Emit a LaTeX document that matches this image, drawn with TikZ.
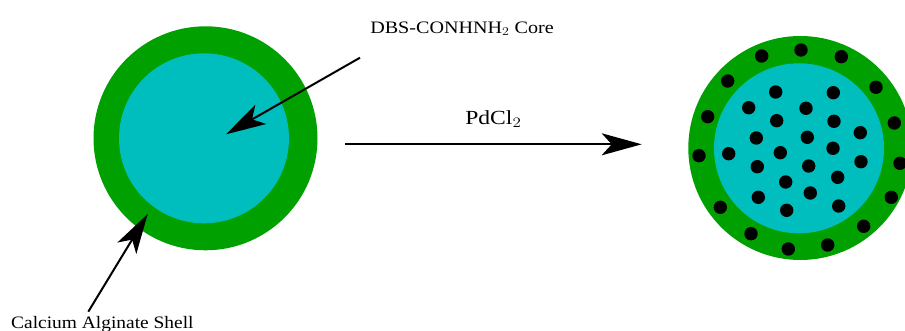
\documentclass[tikz,border=0pt]{standalone}
\usepackage{fontspec}
\setmainfont{Liberation Serif}
\usetikzlibrary{arrows.meta}
\definecolor{shellgreen}{RGB}{0,160,0}
\definecolor{corecyan}{RGB}{0,190,190}
\newcommand{\widetext}[2]{\scalebox{#1}[1]{#2}}
\tikzset{
  shell/.style={fill=shellgreen, draw=none},
  core/.style={fill=corecyan, draw=none},
  pd/.style={fill=black, draw=none},
  pointer/.style={line width=2pt, -{Stealth[length=40pt, width=22pt, inset=10pt]}},
  label/.style={inner sep=0pt, font=\fontsize{17.5}{20}\selectfont},
}
\begin{document}
\begin{tikzpicture}[x=1pt, y=-1pt]
  \useasboundingbox (0,0) rectangle (905,331);
  % capsule before reaction
  \fill[shell] (205.5,138.3) circle (112);
  \fill[core] (204,138.3) circle (85);
  \coordinate (coretip) at (226,134.3);
  \coordinate (shelltip) at (147.7,214);
  % capsule after reaction
  \fill[shell] (800.3,148) circle (112);
  \fill[core] (799,148.3) circle (85);
  \foreach \x/\y in {801/50, 761.7/56, 841.3/56.7, 727.7/81, 876/87.3, 707.7/116.7,
      894.3/123, 699/155.7, 900/163.3, 720.3/207.3, 891.3/197.3, 751/233.7,
      863.7/226.3, 788.3/249, 827.7/245,
      775.7/92, 833.3/92.7, 748.7/107.7, 806/108.3, 776.7/120.7, 834/121.3,
      756.3/138, 807.3/137.3, 860.3/132.7, 728.7/153.7, 780.3/152.7, 833/148.3,
      757.3/166.7, 808.7/166, 861/161.7, 785.7/182, 837.7/177.3, 758.3/197.3,
      810.3/193, 786.7/210.3, 838.7/206}
    \fill[pd] (\x,\y) circle (6.7);
  % labels
  \node[label, anchor=base] (corelbl) at (462,33.3) {\widetext{1.15}{DBS-CONHNH$_2$ Core}};
  \node[label, anchor=base west] (shelllbl) at (11,328.3) {\widetext{1.11}{Calcium Alginate Shell}};
  \coordinate (corefrom) at (360,57.7);
  \coordinate (shellfrom) at (88.3,311.7);
  \draw[pointer] (corefrom) -- (coretip);
  \draw[pointer] (shellfrom) -- (shelltip);
  % reaction arrow
  \coordinate (rxnfrom) at (345,144.3);
  \coordinate (rxnto) at (641.7,144.3);
  \draw[pointer] (rxnfrom) -- node[label, above=16pt, font=\fontsize{20}{24}\selectfont] (reagent) {\widetext{1.18}{PdCl$_2$}} (rxnto);
\end{tikzpicture}
\end{document}
